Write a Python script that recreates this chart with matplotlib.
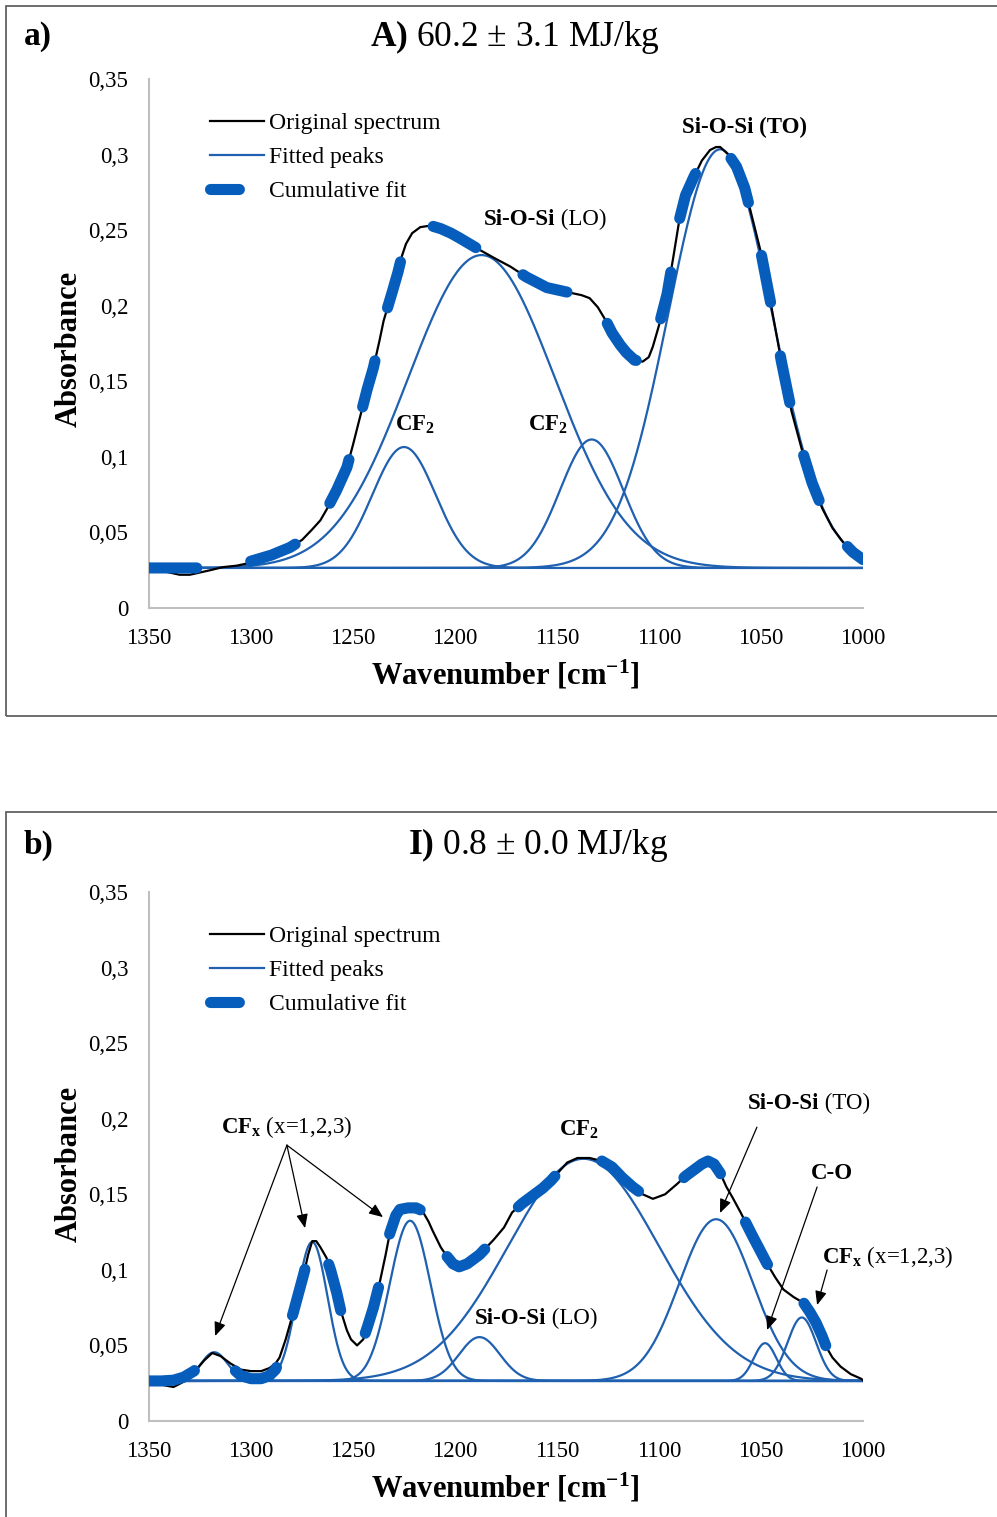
import numpy as np
import matplotlib.pyplot as plt
from matplotlib.patches import Rectangle
from matplotlib.lines import Line2D
from matplotlib.ticker import FuncFormatter

plt.rcParams['font.family'] = 'Liberation Serif'
plt.rcParams['mathtext.fontset'] = 'custom'
plt.rcParams['mathtext.rm'] = 'Liberation Serif'
plt.rcParams['mathtext.bf'] = 'Liberation Serif:bold'
plt.rcParams['mathtext.it'] = 'Liberation Serif:italic'

# --- Panel a: A) 60.2 +- 3.1 MJ/kg ---
wn_a = [1350, 1345, 1340, 1335, 1330, 1325, 1320, 1314, 1307, 1300, 1290, 1281,
        1275, 1270, 1266, 1263, 1258, 1253, 1250, 1247, 1243, 1240, 1237, 1235,
        1231, 1228, 1226, 1224, 1221, 1217, 1212, 1207, 1202, 1198, 1193, 1188,
        1180, 1173, 1165, 1155, 1145, 1138, 1134, 1130, 1126, 1123, 1119, 1116,
        1112, 1108, 1105, 1103, 1100, 1096, 1093, 1090, 1087, 1083, 1079, 1075,
        1072, 1070, 1066, 1062, 1058, 1055, 1050, 1045, 1040, 1035, 1030, 1025,
        1020, 1015, 1010, 1005, 1000]
orig_a = [0.026, 0.025, 0.0235, 0.022, 0.022, 0.0235, 0.025, 0.027, 0.028, 0.030,
          0.035, 0.040, 0.045, 0.052, 0.058, 0.065, 0.078, 0.093, 0.108, 0.124,
          0.145, 0.159, 0.177, 0.190, 0.208, 0.222, 0.233, 0.241, 0.248, 0.252,
          0.253, 0.251, 0.248, 0.245, 0.241, 0.237, 0.231, 0.226, 0.219, 0.212,
          0.209, 0.207, 0.205, 0.199, 0.190, 0.182, 0.174, 0.169, 0.164, 0.163,
          0.166, 0.173, 0.187, 0.208, 0.232, 0.257, 0.273, 0.285, 0.296, 0.303,
          0.305, 0.305, 0.300, 0.292, 0.278, 0.262, 0.235, 0.200, 0.163, 0.130,
          0.105, 0.083, 0.066, 0.053, 0.044, 0.037, 0.033]
cum_a = [0.0265, 0.0265, 0.0265, 0.0265, 0.0265, 0.0265, 0.027, 0.028, 0.029, 0.031,
         0.035, 0.040, 0.045, 0.052, 0.058, 0.065, 0.078, 0.093, 0.108, 0.124,
         0.145, 0.159, 0.177, 0.190, 0.208, 0.222, 0.233, 0.241, 0.248, 0.252,
         0.253, 0.251, 0.248, 0.245, 0.241, 0.237, 0.231, 0.226, 0.219, 0.212,
         0.209, 0.207, 0.205, 0.199, 0.190, 0.182, 0.174, 0.169, 0.164, 0.163,
         0.166, 0.173, 0.187, 0.208, 0.232, 0.257, 0.273, 0.285, 0.296, 0.303,
         0.305, 0.305, 0.300, 0.292, 0.278, 0.262, 0.235, 0.200, 0.163, 0.130,
         0.105, 0.083, 0.066, 0.053, 0.044, 0.037, 0.032]
baseline_a = 0.0265
peak_centers_a = [1225, 1187, 1133, 1070]
peak_heights_a = [0.080, 0.207, 0.085, 0.277]
peak_widths_a = [15.5, 36, 15.5, 25.5]

# --- Panel b: I) 0.8 +- 0.0 MJ/kg ---
wn_b = [1350, 1344, 1338, 1333, 1328, 1323, 1319, 1315, 1310, 1305, 1300, 1295,
        1291, 1288, 1286, 1283, 1279, 1276, 1274, 1272, 1270, 1268, 1266, 1263,
        1261, 1258, 1256, 1253, 1251, 1248, 1245, 1243, 1240, 1237, 1234, 1232,
        1229, 1227, 1223, 1219, 1216, 1213, 1211, 1207, 1204, 1201, 1198, 1194,
        1188, 1181, 1176, 1172, 1167, 1162, 1157, 1153, 1149, 1145, 1140, 1134,
        1128, 1123, 1118, 1113, 1108, 1103, 1097, 1091, 1087, 1083, 1079, 1076,
        1073, 1070, 1067, 1064, 1060, 1054, 1047, 1043, 1039, 1034, 1029, 1026,
        1023, 1020, 1018, 1015, 1011, 1006, 1001, 1000]
orig_b = [0.026, 0.024, 0.0225, 0.026, 0.032, 0.040, 0.045, 0.043, 0.038, 0.034,
          0.033, 0.033, 0.035, 0.038, 0.042, 0.054, 0.073, 0.088, 0.098, 0.110,
          0.119, 0.119, 0.115, 0.108, 0.100, 0.085, 0.073, 0.060, 0.054, 0.050,
          0.054, 0.062, 0.075, 0.091, 0.110, 0.124, 0.137, 0.142, 0.143, 0.142,
          0.139, 0.132, 0.126, 0.115, 0.109, 0.104, 0.102, 0.104, 0.110, 0.120,
          0.128, 0.138, 0.144, 0.149, 0.154, 0.159, 0.165, 0.171, 0.174, 0.174,
          0.172, 0.168, 0.161, 0.155, 0.150, 0.147, 0.150, 0.157, 0.162, 0.166,
          0.170, 0.172, 0.170, 0.164, 0.155, 0.148, 0.138, 0.122, 0.104, 0.095,
          0.087, 0.082, 0.078, 0.072, 0.065, 0.056, 0.049, 0.042, 0.036, 0.031,
          0.028, 0.027]
cum_b = [0.0265, 0.0265, 0.027, 0.029, 0.033, 0.040, 0.045, 0.042, 0.036, 0.030,
         0.028, 0.028, 0.030, 0.034, 0.040, 0.054, 0.073, 0.088, 0.098, 0.109,
         0.117, 0.117, 0.115, 0.108, 0.100, 0.085, 0.073, 0.060, 0.054, 0.050,
         0.054, 0.062, 0.075, 0.091, 0.110, 0.124, 0.136, 0.140, 0.141, 0.141,
         0.139, 0.132, 0.126, 0.115, 0.109, 0.104, 0.102, 0.104, 0.110, 0.120,
         0.128, 0.138, 0.144, 0.149, 0.154, 0.159, 0.165, 0.171, 0.174, 0.174,
         0.172, 0.168, 0.161, 0.155, 0.150, 0.147, 0.150, 0.157, 0.162, 0.166,
         0.170, 0.172, 0.170, 0.164, 0.155, 0.148, 0.138, 0.122, 0.104, 0.095,
         0.087, 0.082, 0.078, 0.072, 0.065, 0.056, 0.049, 0.042, 0.036, 0.030,
         0.027, 0.0265]
baseline_b = 0.0265
peak_centers_b = [1318, 1270, 1222, 1188, 1137, 1072, 1048, 1030]
peak_heights_b = [0.019, 0.092, 0.106, 0.029, 0.147, 0.107, 0.025, 0.042]
peak_widths_b = [6.5, 7.5, 10, 10, 37, 18, 5.5, 7]

y_ticks = [0, 0.05, 0.1, 0.15, 0.2, 0.25, 0.3, 0.35]
x_ticks = [1350, 1300, 1250, 1200, 1150, 1100, 1050, 1000]

PEAK_BLUE = '#1f60b0'
CUM_BLUE = '#075dbb'
CUM_DASH = (0, (4.3, 4.9))
W, H = 997, 1517


def gauss(x, c, h, w, base):
    return base + h * np.exp(-(x - c) ** 2 / (2 * w ** 2))


def comma_fmt(v, pos):
    return f"{v:.2f}".rstrip('0').rstrip('.').replace('.', ',')


def draw_panel(ax, wn, orig, cum, base, centers, heights, widths):
    grid = np.linspace(1350, 1000, 1401)
    for c, h, w in zip(centers, heights, widths):
        ax.plot(grid, gauss(grid, c, h, w, base), color=PEAK_BLUE, lw=1.6, zorder=2)
    ax.plot(wn, orig, color='black', lw=1.6, zorder=3)
    ax.plot(wn, cum, color=CUM_BLUE, lw=8, linestyle=CUM_DASH,
            dash_capstyle='round', zorder=4)
    ax.set_xlim(1350, 1000)
    ax.set_ylim(0, 0.35)
    ax.set_xticks(x_ticks)
    ax.set_yticks(y_ticks)
    ax.yaxis.set_major_formatter(FuncFormatter(comma_fmt))
    ax.tick_params(length=0, labelsize=16.5)
    ax.tick_params(axis='y', pad=15)
    ax.tick_params(axis='x', pad=14.5)
    for s in ['top', 'right']:
        ax.spines[s].set_visible(False)
    for s in ['left', 'bottom']:
        ax.spines[s].set_color('#bfbfbf')
        ax.spines[s].set_linewidth(1.5)
    ax.set_xlabel(r'Wavenumber [cm$^{\mathbf{-1}}$]', fontsize=22, fontweight='bold',
                  va='center')
    ax.xaxis.set_label_coords(0.4986, -0.127)
    ax.set_ylabel('Absorbance', fontsize=22, fontweight='bold', va='center')
    ax.yaxis.set_label_coords(-0.111, 0.49)
    handles = [Line2D([], [], color='black', lw=1.6),
               Line2D([], [], color=PEAK_BLUE, lw=1.6),
               Line2D([], [], color=CUM_BLUE, lw=8, linestyle=(0, (2.6, 10)),
                      dash_capstyle='round')]
    ax.legend(handles, ['Original spectrum', 'Fitted peaks', 'Cumulative fit'],
              loc='upper left', bbox_to_anchor=(0.085, 0.936), frameon=False,
              fontsize=17, handlelength=2.3, handletextpad=0.2, labelspacing=0.53,
              borderpad=0, borderaxespad=0)


def mixed_label(ax, x, y, bold, normal, size=16.5):
    t = ax.text(x, y, bold, fontsize=size, fontweight='bold', ha='left', va='center')
    ax.annotate(normal, xy=(1, 0.5), xycoords=t, fontsize=size, ha='left', va='center')


def arrow(ax, tail, head):
    ax.annotate('', xy=head, xytext=tail,
                arrowprops=dict(arrowstyle='-|>,head_length=0.6,head_width=0.25',
                                color='black', lw=0.9, shrinkA=0, shrinkB=0,
                                mutation_scale=14))


fig = plt.figure(figsize=(W / 100, H / 100), dpi=100)

# panel frames
fig.patches.append(Rectangle((6 / W, 1 - 716 / H), 1.2, 710 / H, transform=fig.transFigure,
                             fill=False, edgecolor='#555555', lw=1.2))
fig.patches.append(Rectangle((6 / W, -0.05), 1.2, 0.05 + (H - 812) / H,
                             transform=fig.transFigure, fill=False,
                             edgecolor='#555555', lw=1.2))

ax_a = fig.add_axes([149 / W, 1 - 608 / H, 714 / W, 529 / H])
ax_b = fig.add_axes([149 / W, 1 - 1421 / H, 714 / W, 529 / H])

draw_panel(ax_a, wn_a, orig_a, cum_a, baseline_a, peak_centers_a, peak_heights_a, peak_widths_a)
draw_panel(ax_b, wn_b, orig_b, cum_b, baseline_b, peak_centers_b, peak_heights_b, peak_widths_b)
ax_b.yaxis.set_label_coords(-0.111, 0.486)

# panel headers
fig.text(24 / W, 1 - 37 / H, 'a)', fontsize=24, fontweight='bold', va='center')
fig.text(515 / W, 1 - 37 / H, r'$\mathbf{A)}$ 60.2 ± 3.1 MJ/kg', fontsize=25.5,
         ha='center', va='center')
fig.text(24 / W, 1 - 845 / H, 'b)', fontsize=24, fontweight='bold', va='center')
fig.text(538 / W, 1 - 845 / H, r'$\mathbf{I)}$ 0.8 ± 0.0 MJ/kg', fontsize=25.5,
         ha='center', va='center')

# panel a annotations
ax_a.text(1058.3, 0.318, 'Si-O-Si (TO)', fontsize=16.5, fontweight='bold',
          ha='center', va='center')
mixed_label(ax_a, 1185.8, 0.2573, 'Si-O-Si', ' (LO)')
ax_a.text(1219.6, 0.121, r'$\mathbf{CF_2}$', fontsize=16.5, ha='center', va='center')
ax_a.text(1154.4, 0.121, r'$\mathbf{CF_2}$', fontsize=16.5, ha='center', va='center')

# panel b annotations
ax_b.text(1314.7, 0.1944, r'$\mathbf{CF_x}$ (x=1,2,3)', fontsize=16.5, ha='left', va='center')
for head in [(1317.6, 0.0562), (1273.5, 0.1276), (1235.3, 0.1349)]:
    arrow(ax_b, (1282.4, 0.1825), head)
ax_b.text(1139.2, 0.1925, r'$\mathbf{CF_2}$', fontsize=16.5, ha='center', va='center')
mixed_label(ax_b, 1056.4, 0.2103, 'Si-O-Si', ' (TO)')
arrow(ax_b, (1052.0, 0.1944), (1070.1, 0.1376))
ax_b.text(1015.2, 0.164, 'C-O', fontsize=16.5, fontweight='bold', ha='center', va='center')
arrow(ax_b, (1022.5, 0.1548), (1047.0, 0.0602))
ax_b.text(1020.0, 0.1085, r'$\mathbf{CF_x}$ (x=1,2,3)', fontsize=16.5, ha='left', va='center')
arrow(ax_b, (1017.6, 0.0999), (1022.5, 0.0767))
mixed_label(ax_b, 1190.2, 0.0681, 'Si-O-Si', ' (LO)')

fig.savefig('out.png', dpi=100)
